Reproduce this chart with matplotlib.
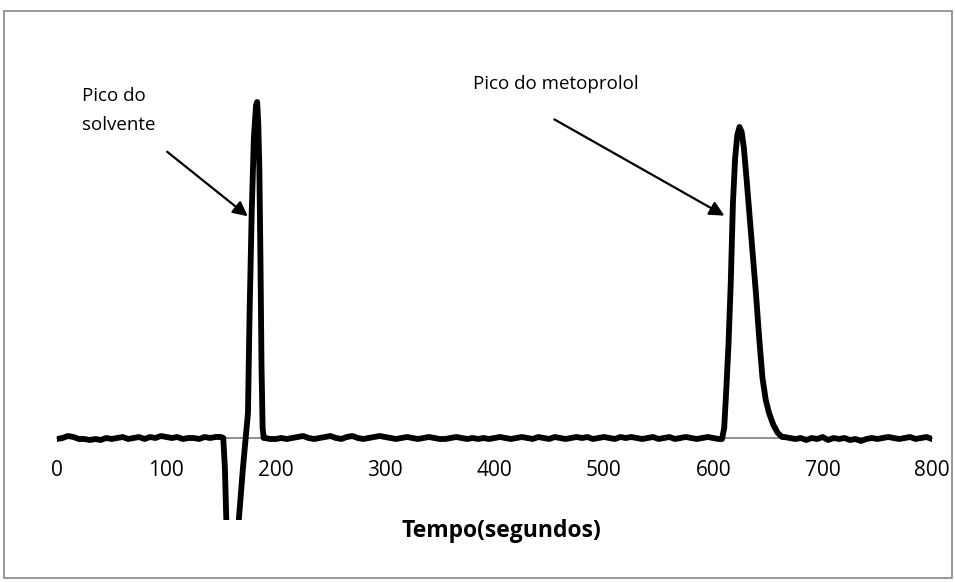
import matplotlib.pyplot as plt
import numpy as np
from matplotlib.patches import Rectangle

plt.rcParams['font.family'] = ['Open Sans', 'DejaVu Sans']

# Linha de base (ruido), amostrada a cada 5 s
t_base_a = np.arange(0, 151, 5)
v_base_a = [-1, 0, 2, 1, -1, -1, -2, -1, -2, 0,
            -1, 0, 1, -1, 0, 1, -1, 1, 0, 2,
            1, 0, 1, -1, 0, 0, -1, 1, 0, 1,
            1]

t_base_b = np.arange(190, 606, 5)
v_base_b = [0, -1, -1, 0, -1, 0, 1, 2, 0, -1,
            0, 1, 2, 0, -1, 1, 2, 0, -1, 0,
            1, 2, 1, 0, -1, 0, 1, 0, -1, 0,
            1, 0, -1, -1, 0, 1, 0, -1, 0, -1,
            0, -1, 0, 1, 0, -1, 0, 1, 0, -1,
            1, 0, -1, 1, 0, -1, 0, 1, 0, 1,
            -1, 0, 1, 0, -1, 1, 0, 1, 0, -1,
            0, 1, -1, 0, 1, -1, 0, 1, 0, -1,
            0, 1, 0, -1]

t_base_c = np.arange(665, 801, 5)
v_base_c = [1, 0, -1, 0, -2, 0, -1, 1, -2, 0,
            -1, 0, -2, -1, -3, -1, 0, -1, 0, 1,
            0, -1, 0, 1, -1, 0, 1, -1]

# Pico do solvente (com a queda negativa antes)
t_solv = [152, 153.5, 155, 157, 161, 164, 166, 170, 174.6, 176, 178,
          180, 182, 183, 184, 185, 186, 187, 188, 189]
v_solv = [0, -30, -90, -200, -260, -150, -85, -30, 25, 120, 225,
          300, 333, 336, 315, 270, 180, 70, 10, 0]

# Pico do metoprolol
t_meto = [608, 610, 612, 614, 616, 618, 620, 622, 624, 626, 628, 630,
          633, 636, 639, 642, 645, 648, 651, 655, 659, 663]
v_meto = [-1, 10, 50, 95, 155, 235, 280, 303, 311, 306, 290, 265,
          225, 185, 145, 100, 60, 38, 25, 13, 5, 1]

tempo = np.concatenate([t_base_a, t_solv, t_base_b, t_meto, t_base_c])
sinal = np.concatenate([v_base_a, v_solv, v_base_b, v_meto, v_base_c])

xticks = [0, 100, 200, 300, 400, 500, 600, 700, 800]

fig = plt.figure(figsize=(9.55, 5.82), dpi=100)
ax = fig.add_axes([57 / 955, 62 / 582, 875 / 955, 490 / 582])

ax.plot(tempo, sinal, color='black', lw=4.2, solid_joinstyle='round')

ax.set_xlim(0, 800)
ax.set_ylim(-82, 408)
for s in ['top', 'right', 'left']:
    ax.spines[s].set_visible(False)
ax.spines['bottom'].set_position(('data', 0))
ax.spines['bottom'].set_color('#868686')
ax.spines['bottom'].set_linewidth(1.3)
ax.spines['bottom'].set_zorder(0)

ax.set_xticks(xticks)
ax.set_xticklabels([str(x) for x in xticks])
ax.tick_params(axis='x', length=0, pad=16, labelsize=15)
ax.set_yticks([])

ax.set_xlabel('Tempo(segundos)', fontsize=16.5, fontweight='bold')
ax.xaxis.label.set_va('center')
ax.xaxis.set_label_coords((501 - 57) / 875, (520 - 531) / 490)

# Setas e textos
seta = dict(arrowstyle='-|>', color='black', lw=1.6, mutation_scale=22)
ax.annotate('', xy=(176.4, 220), xytext=(98.7, 288), arrowprops=seta)
ax.annotate('', xy=(612.4, 221), xytext=(452.5, 320), arrowprops=seta)

fig.text(82 / 955, 1 - 96 / 582, 'Pico do', fontsize=13.5, va='center')
fig.text(82 / 955, 1 - 125 / 582, 'solvente', fontsize=13.5, va='center')
fig.text(473 / 955, 1 - 84 / 582, 'Pico do metoprolol', fontsize=13.5, va='center')

# borda do grafico
fig.patches.append(Rectangle((4 / 955, 4 / 582), 948 / 955, 567 / 582,
                             transform=fig.transFigure, fill=False,
                             edgecolor='#868686', lw=1.2))

fig.savefig('out.png', dpi=100)
